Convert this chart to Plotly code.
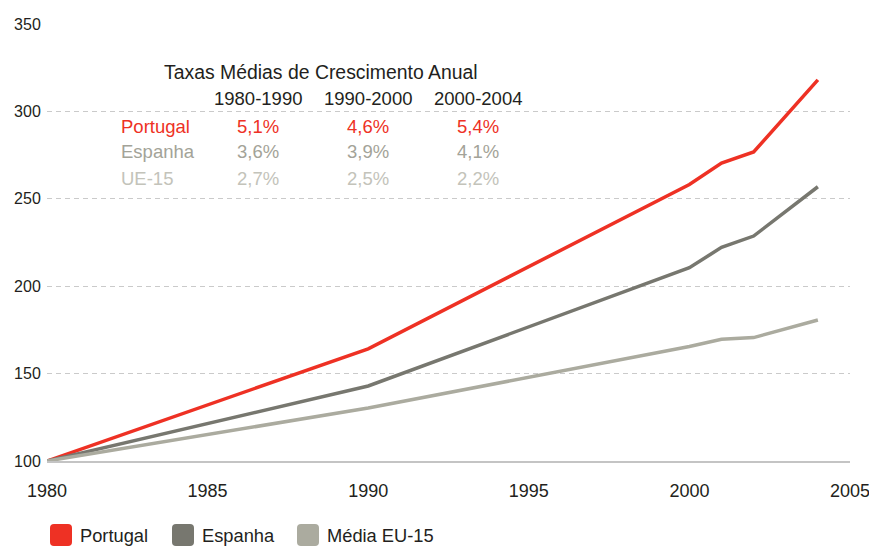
import plotly.graph_objects as go

# Index of GDP growth (1980 = 100)
years = [1980, 1990, 2000, 2001, 2002, 2004]
portugal = [100, 164.2, 258.2, 270.5, 276.8, 318.0]
espanha = [100, 142.9, 210.6, 222.2, 228.7, 256.9]
media_ue15 = [100, 130.3, 165.5, 169.6, 170.6, 180.7]

series_names = ["Portugal", "Espanha", "Média EU-15"]
series_values = [portugal, espanha, media_ue15]
series_colors = ["#ee3124", "#77776f", "#abab9f"]

# Average annual growth rates table
table_title = "Taxas Médias de Crescimento Anual"
periods = ["1980-1990", "1990-2000", "2000-2004"]
row_labels = ["Portugal", "Espanha", "UE-15"]
row_values = [
    ["5,1%", "4,6%", "5,4%"],
    ["3,6%", "3,9%", "4,1%"],
    ["2,7%", "2,5%", "2,2%"],
]
row_colors = ["#ee3124", "#a3a398", "#c3c3ba"]

x_ticks = [1980, 1985, 1990, 1995, 2000, 2005]
y_ticks = [100, 150, 200, 250, 300, 350]

FONT = "Liberation Sans, Arial, Helvetica, sans-serif"
NARROW = "Liberation Sans Narrow, Arial Narrow, Liberation Sans, sans-serif"

W, H = 869, 546
ML, MR, MT, MB = 47, 19, 24, 85
PW, PH = W - ML - MR, H - MT - MB


def px_x(px):
    """pixel column -> paper x"""
    return (px - ML) / PW


def px_y(py):
    """pixel row -> paper y"""
    return (H - MB - py) / PH


def rounded_square(x0, y0, size, r):
    """SVG path (paper coords) for a rounded square given in pixels"""
    x1, y1 = x0 + size, y0 + size
    pts = [
        ("M", x0 + r, y0), ("L", x1 - r, y0), ("Q", x1, y0, x1, y0 + r),
        ("L", x1, y1 - r), ("Q", x1, y1, x1 - r, y1), ("L", x0 + r, y1),
        ("Q", x0, y1, x0, y1 - r), ("L", x0, y0 + r), ("Q", x0, y0, x0 + r, y0),
    ]
    out = []
    for p in pts:
        cmd, coords = p[0], p[1:]
        conv = []
        for i in range(0, len(coords), 2):
            conv.append(f"{px_x(coords[i]):.5f},{px_y(coords[i + 1]):.5f}")
        out.append(cmd + " ".join(conv))
    return " ".join(out) + " Z"


fig = go.Figure()

for name, vals, col in zip(series_names, series_values, series_colors):
    fig.add_trace(go.Scatter(
        x=years, y=vals, mode="lines", name=name,
        line=dict(color=col, width=3.5), showlegend=False,
        hoverinfo="x+y+name",
    ))

# table annotations (paper coordinates)
col_px = [258, 368, 478]
label_px = 119
title_py, header_py = 72, 98
row_py = [126, 152, 178]

fig.add_annotation(x=px_x(321), y=px_y(title_py), xref="paper", yref="paper",
                   text=table_title, showarrow=False,
                   xanchor="center", yanchor="middle",
                   font=dict(family=FONT, size=19.4, color="#231f20"))
for cx, p in zip(col_px, periods):
    fig.add_annotation(x=px_x(cx), y=px_y(header_py), xref="paper", yref="paper",
                       text=p, showarrow=False,
                       xanchor="center", yanchor="middle",
                       font=dict(family=FONT, size=18.5, color="#231f20"))
for ry, lab, vals, col in zip(row_py, row_labels, row_values, row_colors):
    fig.add_annotation(x=px_x(label_px), y=px_y(ry), xref="paper", yref="paper",
                       text=lab, showarrow=False,
                       xanchor="left", yanchor="middle",
                       font=dict(family=FONT, size=18.5, color=col))
    for cx, v in zip(col_px, vals):
        fig.add_annotation(x=px_x(cx), y=px_y(ry), xref="paper", yref="paper",
                           text=v, showarrow=False,
                           xanchor="center", yanchor="middle",
                           font=dict(family=FONT, size=18.5, color=col))

# legend: rounded colour swatches with labels
legend_left_px = [50, 172, 297]
swatch = 22
legend_py = 524
for lx, name, col in zip(legend_left_px, series_names, series_colors):
    fig.add_shape(type="path", xref="paper", yref="paper",
                  path=rounded_square(lx, legend_py, swatch, 4),
                  fillcolor=col, line=dict(width=0))
    fig.add_annotation(x=px_x(lx + swatch + 6), y=px_y(legend_py + swatch / 2),
                       xref="paper", yref="paper", text=name, showarrow=False,
                       xanchor="left", yanchor="middle",
                       font=dict(family=FONT, size=18.3, color="#231f20"))

fig.update_layout(
    width=W, height=H,
    margin=dict(l=ML, r=MR, t=MT, b=MB, autoexpand=False),
    paper_bgcolor="white", plot_bgcolor="white",
    font=dict(family=FONT, size=16, color="#231f20"),
    showlegend=False,
    xaxis=dict(range=[1980, 2005], tickvals=x_ticks, showgrid=False,
               showline=True, linecolor="#c4c4c4", linewidth=1.5,
               ticks="", ticklabelstandoff=13, zeroline=False,
               automargin=False, ticklabeloverflow="allow",
               tickfont=dict(family=NARROW, size=18, color="#231f20")),
    yaxis=dict(range=[100, 350], tickvals=y_ticks, showgrid=True,
               gridcolor="#cacaca", gridwidth=1, griddash="5px,4px",
               zeroline=False, showline=False, automargin=False,
               ticks="outside", ticklen=2, tickcolor="rgba(0,0,0,0)",
               tickfont=dict(family=FONT, size=16, color="#231f20")),
)

fig.write_html("out.html")
